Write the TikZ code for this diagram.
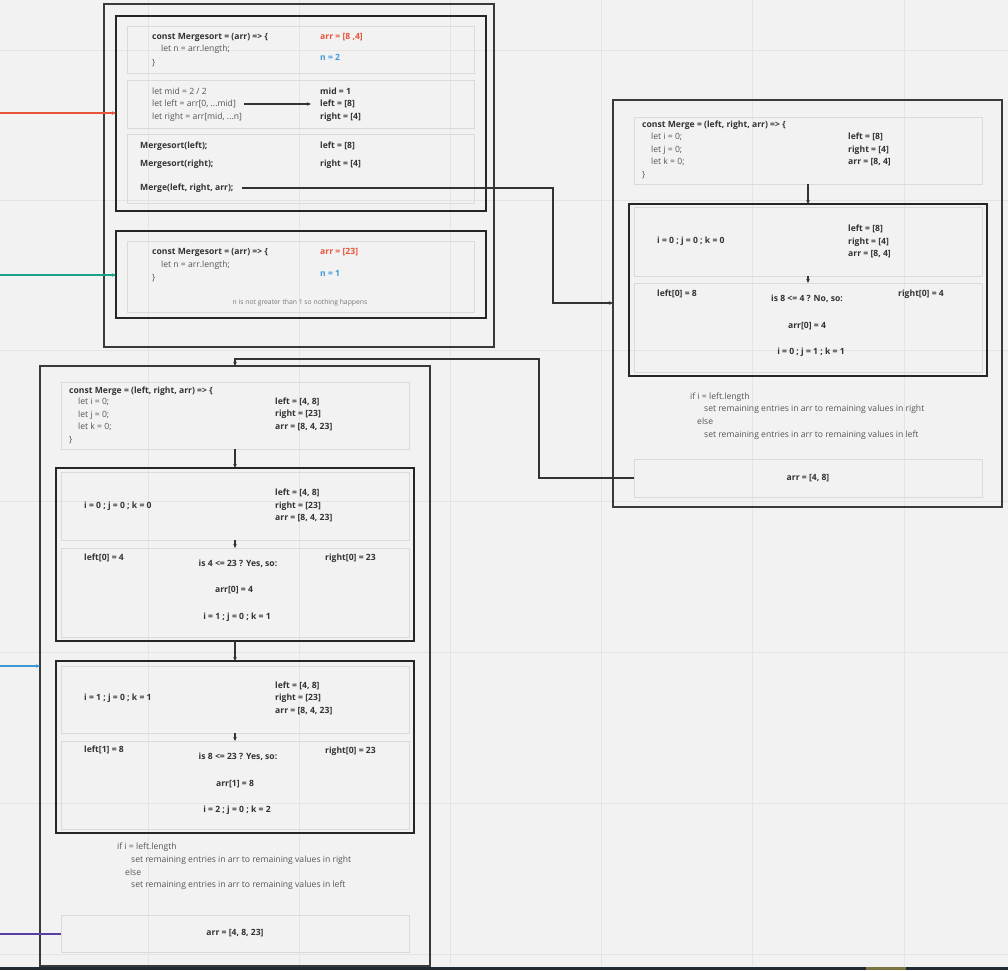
\documentclass[tikz,border=0pt]{standalone}
\usepackage{fontspec}
\setmainfont{Open Sans}
\usetikzlibrary{arrows.meta}
\definecolor{bg}{HTML}{F2F2F2}
\definecolor{gridc}{HTML}{E4E4E4}
\definecolor{framec}{HTML}{3A3A3A}
\definecolor{innerc}{HTML}{262626}
\definecolor{subc}{HTML}{DADADA}
\definecolor{txt}{HTML}{333333}
\definecolor{ltc}{HTML}{555555}
\definecolor{notec}{HTML}{777777}
\definecolor{redc}{HTML}{E8543A}
\definecolor{bluec}{HTML}{3D9AD6}
\definecolor{tealc}{HTML}{1AA38A}
\definecolor{purc}{HTML}{5B3EA0}
\definecolor{stripc}{HTML}{1F2A33}
\definecolor{olivec}{HTML}{7A7440}
\begin{document}
\begin{tikzpicture}[x=1pt,y=-1pt,
  outerbox/.style={draw=framec,line width=1.5pt,anchor=north west,inner sep=0pt,outer sep=0pt},
  innerbox/.style={draw=innerc,line width=2pt,anchor=north west,inner sep=0pt,outer sep=0pt},
  subbox/.style={draw=subc,line width=0.8pt,anchor=north west,inner sep=0pt,outer sep=0pt},
  bt/.style={anchor=west,inner sep=0pt,font=\fontsize{8.6}{10}\selectfont\bfseries,text=txt},
  ct/.style={anchor=center,inner sep=0pt,font=\fontsize{8.6}{10}\selectfont\bfseries,text=txt},
  lt/.style={anchor=west,inner sep=0pt,font=\fontsize{8.6}{10}\selectfont,text=ltc},
  note/.style={anchor=center,inner sep=0pt,font=\fontsize{6.8}{8}\selectfont,text=notec},
  conn/.style={draw=txt,line width=1.1pt,-{Stealth[length=4pt,width=3.5pt]}},
  plain/.style={draw=txt,line width=1.1pt}
]
\useasboundingbox (0,0) rectangle (1008,970);
\fill[bg] (0,0) rectangle (1008,970);
\foreach \gx in {148,299,450,601,752,904} \draw[gridc,line width=0.8pt] (\gx,0) -- (\gx,966);
\foreach \gy in {50,200,350,501,652,803,954} \draw[gridc,line width=0.8pt] (0,\gy) -- (1008,\gy);
\fill[stripc] (0,967) rectangle (1008,970);
\fill[olivec] (866,967) rectangle (906,970);

% ---------- top-left: Mergesort calls ----------
\node[outerbox,minimum width=390pt,minimum height=343pt] (tl) at (104,4) {};
\node[innerbox,minimum width=370pt,minimum height=195pt] (ms1) at (116,16) {};
\node[subbox,minimum width=347pt,minimum height=47pt] (ms1a) at (127,26) {};
\node[subbox,minimum width=347pt,minimum height=48pt] (ms1b) at (127,80) {};
\node[subbox,minimum width=347pt,minimum height=69pt] (ms1c) at (127,134) {};
\node[innerbox,minimum width=370pt,minimum height=87pt] (ms2) at (116,231) {};
\node[subbox,minimum width=347pt,minimum height=71pt] (ms2a) at (127,241) {};

\node[bt] (a1) at (152,37) {const Mergesort = (arr) => \{};
\node[lt] (a2) at (161,49) {let n = arr.length;};
\node[lt] (a3) at (152,63) {\}};
\node[bt,text=redc] (a4) at (320,37) {arr = [8 ,4]};
\node[bt,text=bluec] (a5) at (320,57) {n = 2};

\node[lt] (b1) at (152,91) {let mid = 2 / 2};
\node[lt] (b2) at (152,104) {let left = arr[0, ...mid]};
\node[lt] (b3) at (152,117) {let right = arr[mid, ...n]};
\node[bt] (b4) at (320,91) {mid = 1};
\node[bt] (b5) at (320,104) {left = [8]};
\node[bt] (b6) at (320,117) {right = [4]};
\draw[conn] ([xshift=8pt]b2.east) -- ([xshift=-9pt]b5.west);

\node[bt] (c1) at (140,146) {Mergesort(left);};
\node[bt] (c2) at (140,164) {Mergesort(right);};
\node[bt] (c3) at (140,188) {Merge(left, right, arr);};
\node[bt] (c4) at (320,146) {left = [8]};
\node[bt] (c5) at (320,164) {right = [4]};

\node[bt] (d1) at (152,252) {const Mergesort = (arr) => \{};
\node[lt] (d2) at (161,265) {let n = arr.length;};
\node[lt] (d3) at (152,278) {\}};
\node[bt,text=redc] (d4) at (320,252) {arr = [23]};
\node[bt,text=bluec] (d5) at (320,273) {n = 1};
\node[note] (d6) at (300,303) {n is not greater than 1 so nothing happens};

% ---------- right: Merge([8],[4]) ----------
\node[outerbox,minimum width=389pt,minimum height=407pt] (rt) at (613,100) {};
\node[subbox,minimum width=348pt,minimum height=67pt] (rta) at (634,117) {};
\node[innerbox,minimum width=358pt,minimum height=172pt] (rtin) at (629,204) {};
\node[subbox,minimum width=348pt,minimum height=69pt] (rtb) at (634,207) {};
\node[subbox,minimum width=348pt,minimum height=89pt] (rtc) at (634,283) {};
\node[subbox,minimum width=348pt,minimum height=38pt] (rtres) at (634,459) {};

\node[bt] (e1) at (642,125) {const Merge = (left, right, arr) => \{};
\node[lt] (e2) at (651,137) {let i = 0;};
\node[lt] (e3) at (651,150) {let j = 0;};
\node[lt] (e4) at (651,162) {let k = 0;};
\node[lt] (e5) at (642,175) {\}};
\node[bt] (e6) at (848,137) {left = [8]};
\node[bt] (e7) at (848,150) {right = [4]};
\node[bt] (e8) at (848,162) {arr = [8, 4]};

\node[bt] (f1) at (657,241) {i = 0 ; j = 0 ; k = 0};
\node[bt] (f2) at (848,229) {left = [8]};
\node[bt] (f3) at (848,242) {right = [4]};
\node[bt] (f4) at (848,254) {arr = [8, 4]};

\node[bt] (g1) at (657,294) {left[0] = 8};
\node[ct] (g2) at (807,299) {is 8 <= 4 ? No, so:};
\node[bt] (g3) at (898,294) {right[0] = 4};
\node[ct] (g4) at (807,326) {arr[0] = 4};
\node[ct] (g5) at (811,352) {i = 0 ; j = 1 ; k = 1};

\node[lt] (h1) at (690,397) {if i = left.length};
\node[lt] (h2) at (704,409) {set remaining entries in arr to remaining values in right};
\node[lt] (h3) at (697,421) {else};
\node[lt] (h4) at (704,435) {set remaining entries in arr to remaining values in left};
\node[ct] (h5) at (rtres.center) {arr = [4, 8]};

\draw[conn] (rta.south) -- (rtin.north);
\draw[conn] (rtb.south) -- (rtc.north);

% ---------- bottom: Merge([4,8],[23]) ----------
\node[outerbox,minimum width=390pt,minimum height=600pt] (bt) at (40,366) {};
\node[subbox,minimum width=348pt,minimum height=67pt] (bta) at (61,382) {};
\node[innerbox,minimum width=358pt,minimum height=173pt] (btin1) at (56,468) {};
\node[subbox,minimum width=348pt,minimum height=68pt] (btb) at (61,472) {};
\node[subbox,minimum width=348pt,minimum height=89pt] (btc) at (61,548) {};
\node[innerbox,minimum width=358pt,minimum height=172pt] (btin2) at (56,661) {};
\node[subbox,minimum width=348pt,minimum height=67pt] (btd) at (61,666) {};
\node[subbox,minimum width=348pt,minimum height=88pt] (bte) at (61,741) {};
\node[subbox,minimum width=348pt,minimum height=37pt] (btres) at (61,915) {};

\node[bt] (k1) at (69,391) {const Merge = (left, right, arr) => \{};
\node[lt] (k2) at (78,402) {let i = 0;};
\node[lt] (k3) at (78,415) {let j = 0;};
\node[lt] (k4) at (78,427) {let k = 0;};
\node[lt] (k5) at (69,440) {\}};
\node[bt] (k6) at (275,402) {left = [4, 8]};
\node[bt] (k7) at (275,414) {right = [23]};
\node[bt] (k8) at (275,427) {arr = [8, 4, 23]};

\node[bt] (m1) at (84,506) {i = 0 ; j = 0 ; k = 0};
\node[bt] (m2) at (275,493) {left = [4, 8]};
\node[bt] (m3) at (275,506) {right = [23]};
\node[bt] (m4) at (275,518) {arr = [8, 4, 23]};

\node[bt] (n1) at (84,558) {left[0] = 4};
\node[ct] (n2) at (238,564) {is 4 <= 23 ? Yes, so:};
\node[bt] (n3) at (325,558) {right[0] = 23};
\node[ct] (n4) at (234,590) {arr[0] = 4};
\node[ct] (n5) at (237,617) {i = 1 ; j = 0 ; k = 1};

\node[bt] (p1) at (84,698) {i = 1 ; j = 0 ; k = 1};
\node[bt] (p2) at (275,686) {left = [4, 8]};
\node[bt] (p3) at (275,698) {right = [23]};
\node[bt] (p4) at (275,711) {arr = [8, 4, 23]};

\node[bt] (q1) at (84,750) {left[1] = 8};
\node[ct] (q2) at (238,757) {is 8 <= 23 ? Yes, so:};
\node[bt] (q3) at (325,751) {right[0] = 23};
\node[ct] (q4) at (235,784) {arr[1] = 8};
\node[ct] (q5) at (237,810) {i = 2 ; j = 0 ; k = 2};

\node[lt] (r1) at (117,847) {if i = left.length};
\node[lt] (r2) at (131,860) {set remaining entries in arr to remaining values in right};
\node[lt] (r3) at (125,872) {else};
\node[lt] (r4) at (131,885) {set remaining entries in arr to remaining values in left};
\node[ct] (r5) at (btres.center) {arr = [4, 8, 23]};

\draw[conn] (bta.south) -- (btin1.north);
\draw[conn] (btb.south) -- (btc.north);
\draw[conn] (btin1.south) -- (btin2.north);
\draw[conn] (btd.south) -- (bte.north);

% ---------- cross connectors ----------
\coordinate (bendA) at (553,303);
\draw[conn] ([xshift=8pt]c3.east) -| (bendA) -- (bendA -| rt.west);
\coordinate (bendB) at (539,359);
\draw[conn] (rtres.west) -| (bendB) -| (bt.north);

% ---------- incoming coloured connectors ----------
\coordinate (inR) at (0,113);
\coordinate (inT) at (0,275);
\coordinate (inB) at (0,666);
\coordinate (inP) at (0,934);
\draw[conn,draw=redc] (inR) -- (inR -| ms1.west);
\draw[conn,draw=tealc] (inT) -- (inT -| ms2.west);
\draw[conn,draw=bluec] (inB) -- (inB -| bt.west);
\draw[plain,draw=purc] (inP) -- (inP -| btres.west);
\end{tikzpicture}
\end{document}
